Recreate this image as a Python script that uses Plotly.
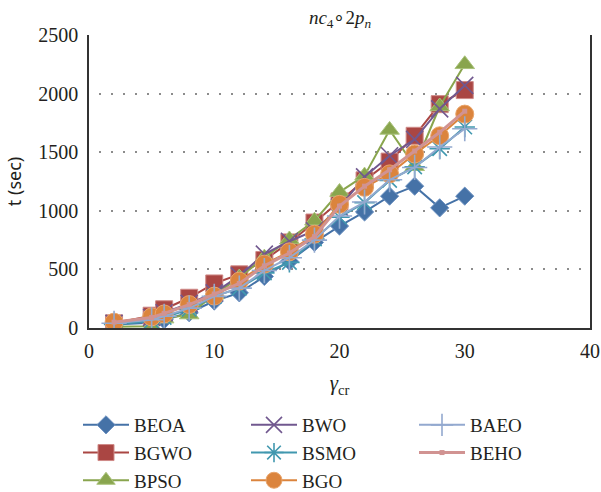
import plotly.graph_objects as go

x_vals = [2, 5, 6, 8, 10, 12, 14, 16, 18, 20, 22, 24, 26, 28, 30]

beoa = [30, 45, 70, 130, 230, 300, 440, 570, 730, 870, 990, 1125, 1210, 1025, 1125]
bgwo = [40, 105, 160, 258, 380, 458, 580, 730, 900, 1080, 1260, 1420, 1640, 1910, 2030]
bpso = [10, 15, 80, 115, 285, 430, 600, 755, 915, 1160, 1300, 1690, 1380, 1890, 2250]
bwo = [40, 90, 130, 210, 300, 445, 630, 740, 830, 1030, 1290, 1470, 1610, 1870, 2070]
bsmo = [30, 60, 90, 160, 270, 340, 470, 560, 760, 945, 1070, 1260, 1375, 1530, 1715]
bgo = [50, 95, 120, 200, 272, 400, 545, 650, 800, 1055, 1200, 1315, 1485, 1640, 1825]
baeo = [40, 70, 100, 170, 270, 340, 490, 600, 750, 955, 1075, 1265, 1370, 1545, 1700]
beho = [50, 90, 125, 200, 290, 380, 530, 640, 780, 1040, 1210, 1350, 1510, 1670, 1850]

x_ticks = [0, 10, 20, 30, 40]
y_ticks = [0, 500, 1000, 1500, 2000, 2500]

series = [
    ("BEOA", beoa, "#4572A7", dict(symbol="diamond", size=14, line=dict(color="#6f93c2", width=1)), 1, 2),
    ("BGWO", bgwo, "#AA4643", dict(symbol="square", size=17, line=dict(color="#cf8a88", width=1)), 4, 2),
    ("BPSO", bpso, "#89A54E", dict(symbol="triangle-up", size=17, line=dict(color="#a9c27a", width=1)), 7, 2),
    ("BWO", bwo, "#71588F", dict(symbol="x-thin-open", size=17, line=dict(color="#71588F", width=1.6)), 2, 2),
    ("BSMO", bsmo, "#4198AF", dict(symbol="asterisk-open", size=17, line=dict(color="#4198AF", width=1.6)), 5, 2),
    ("BGO", bgo, "#DB843D", dict(symbol="circle", size=18, line=dict(color="#e9a56c", width=1)), 8, 2),
    ("BAEO", baeo, "#93A9CF", dict(symbol="cross-thin-open", size=18, line=dict(color="#93A9CF", width=1.6)), 3, 2),
    ("BEHO", beho, "#D19392", dict(symbol="square", size=5, line=dict(color="#D19392", width=0)), 6, 3),
]

fig = go.Figure()
for name, vals, color, marker, rank, lw in series:
    m = dict(color=color)
    m.update(marker)
    fig.add_trace(go.Scatter(
        x=x_vals, y=vals, name=name, mode="lines+markers",
        line=dict(color=color, width=lw), marker=m, legendrank=rank,
    ))

serif = "Liberation Serif"
sans = "Noto Sans"
fig.update_layout(
    width=601, height=492,
    margin=dict(l=89, r=11, t=35, b=163.5),
    paper_bgcolor="white", plot_bgcolor="white",
    font=dict(family=serif, size=20, color="#231f20"),
    title=dict(
        text="<i>nc</i><sub>4</sub>∘2<i>p</i><sub><i>n</i></sub>",
        x=340 / 601, xanchor="center", y=1 - 17 / 492, yanchor="middle",
        xref="container", yref="container", font=dict(size=19, family=serif),
    ),
    showlegend=True,
    legend=dict(
        orientation="h", xref="container", yref="container",
        x=78 / 601, xanchor="left", y=1 - 406 / 492, yanchor="top",
        entrywidth=107, entrywidthmode="pixels", itemwidth=46,
        font=dict(size=19, family=serif), traceorder="normal",
        bgcolor="rgba(0,0,0,0)",
    ),
)
fig.update_xaxes(
    range=[0, 40], tickvals=x_ticks, showgrid=False, zeroline=False,
    showline=True, linecolor="#333333", linewidth=1.5, ticks="",
    ticklabelstandoff=4, automargin=False,
    tickfont=dict(size=20, family=serif),
    title=dict(text="<i>γ</i><sub>cr</sub>", font=dict(size=21, family=serif), standoff=15),
)
fig.update_yaxes(
    range=[0, 2500], tickvals=y_ticks, showgrid=True, gridcolor="#8c8c8c",
    gridwidth=2, griddash="0px,10px,2px,0px", zeroline=False,
    showline=True, mirror=True, linecolor="#333333", linewidth=1.5, ticks="",
    ticklabelstandoff=5, automargin=False,
    tickfont=dict(size=20, family=serif),
    title=dict(text="t (sec)", font=dict(size=18, family=sans), standoff=12),
)

fig.write_html("out.html")
